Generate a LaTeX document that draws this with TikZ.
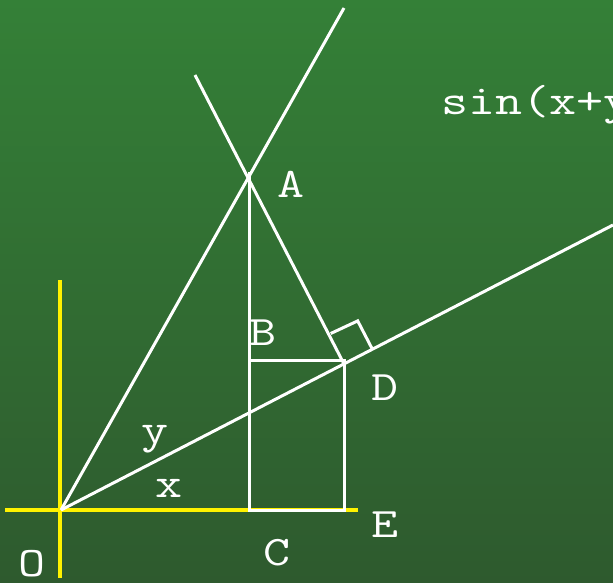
\documentclass[tikz,border=0pt]{standalone}
\usepackage{fontspec}
\newfontfamily\labfont{Latin Modern Mono}[FakeStretch=1.25]
\begin{document}
\begin{tikzpicture}[x=1pt,y=-1pt,
  wline/.style={white,line width=3pt},
  yline/.style={yellow,line width=4pt},
  lab/.style={text=white,font=\labfont\fontsize{42}{42}\selectfont,inner sep=0pt,anchor=base}]
\useasboundingbox (0,0) rectangle (613,583);
\shade[top color={rgb,255:red,52;green,128;blue,55},bottom color={rgb,255:red,46;green,90;blue,46}] (0,0) rectangle (613,583);
% coordinates
\coordinate (O) at (61,510);
\coordinate (A) at (248,178);
\coordinate (Atop) at (249,172);
\coordinate (C) at (249,510);
\coordinate (E) at (344,510);
\coordinate (B) at (249,360);
\coordinate (Bd) at (344,360);
\coordinate (D) at (344,364);
\coordinate (OAend) at (344,8);
\coordinate (ODend) at (613,225);
\coordinate (ADend) at (195,75);
\coordinate (R1) at (330.7,333.5);
\coordinate (R2) at (357.7,320.9);
\coordinate (R3) at (372.4,349.3);
\coordinate (XL) at (5,510);
\coordinate (XR) at (358,510);
\coordinate (YT) at (60,280);
\coordinate (YB) at (60,578);
% axes
\draw[yline] (XL) -- (XR);
\draw[yline] (YT) -- (YB);
% lines
\draw[wline] (O) -- (OAend);
\draw[wline] (O) -- (ODend);
\draw[wline] (ADend) -- (D);
\draw[wline] (Atop) -- (C) -- (E) -- (Bd) -- (B);
\draw[wline,line join=miter] (R1) -- (R2) -- (R3);
% labels
\node[lab] (lA) at (291,197) {A};
\node[lab] (lB) at (263,345) {B};
\node[lab] (lD) at (385,400) {D};
\node[lab] (lC) at (277,565) {C};
\node[lab] (lE) at (385,537) {E};
\node[lab] (lO) at (32,576) {O};
\node[lab] (ly) at (155,443) {y};
\node[lab] (lx) at (169,497) {x};
\node[lab,anchor=base west] (ls) at (441,115) {sin(x+y};
\end{tikzpicture}
\end{document}
